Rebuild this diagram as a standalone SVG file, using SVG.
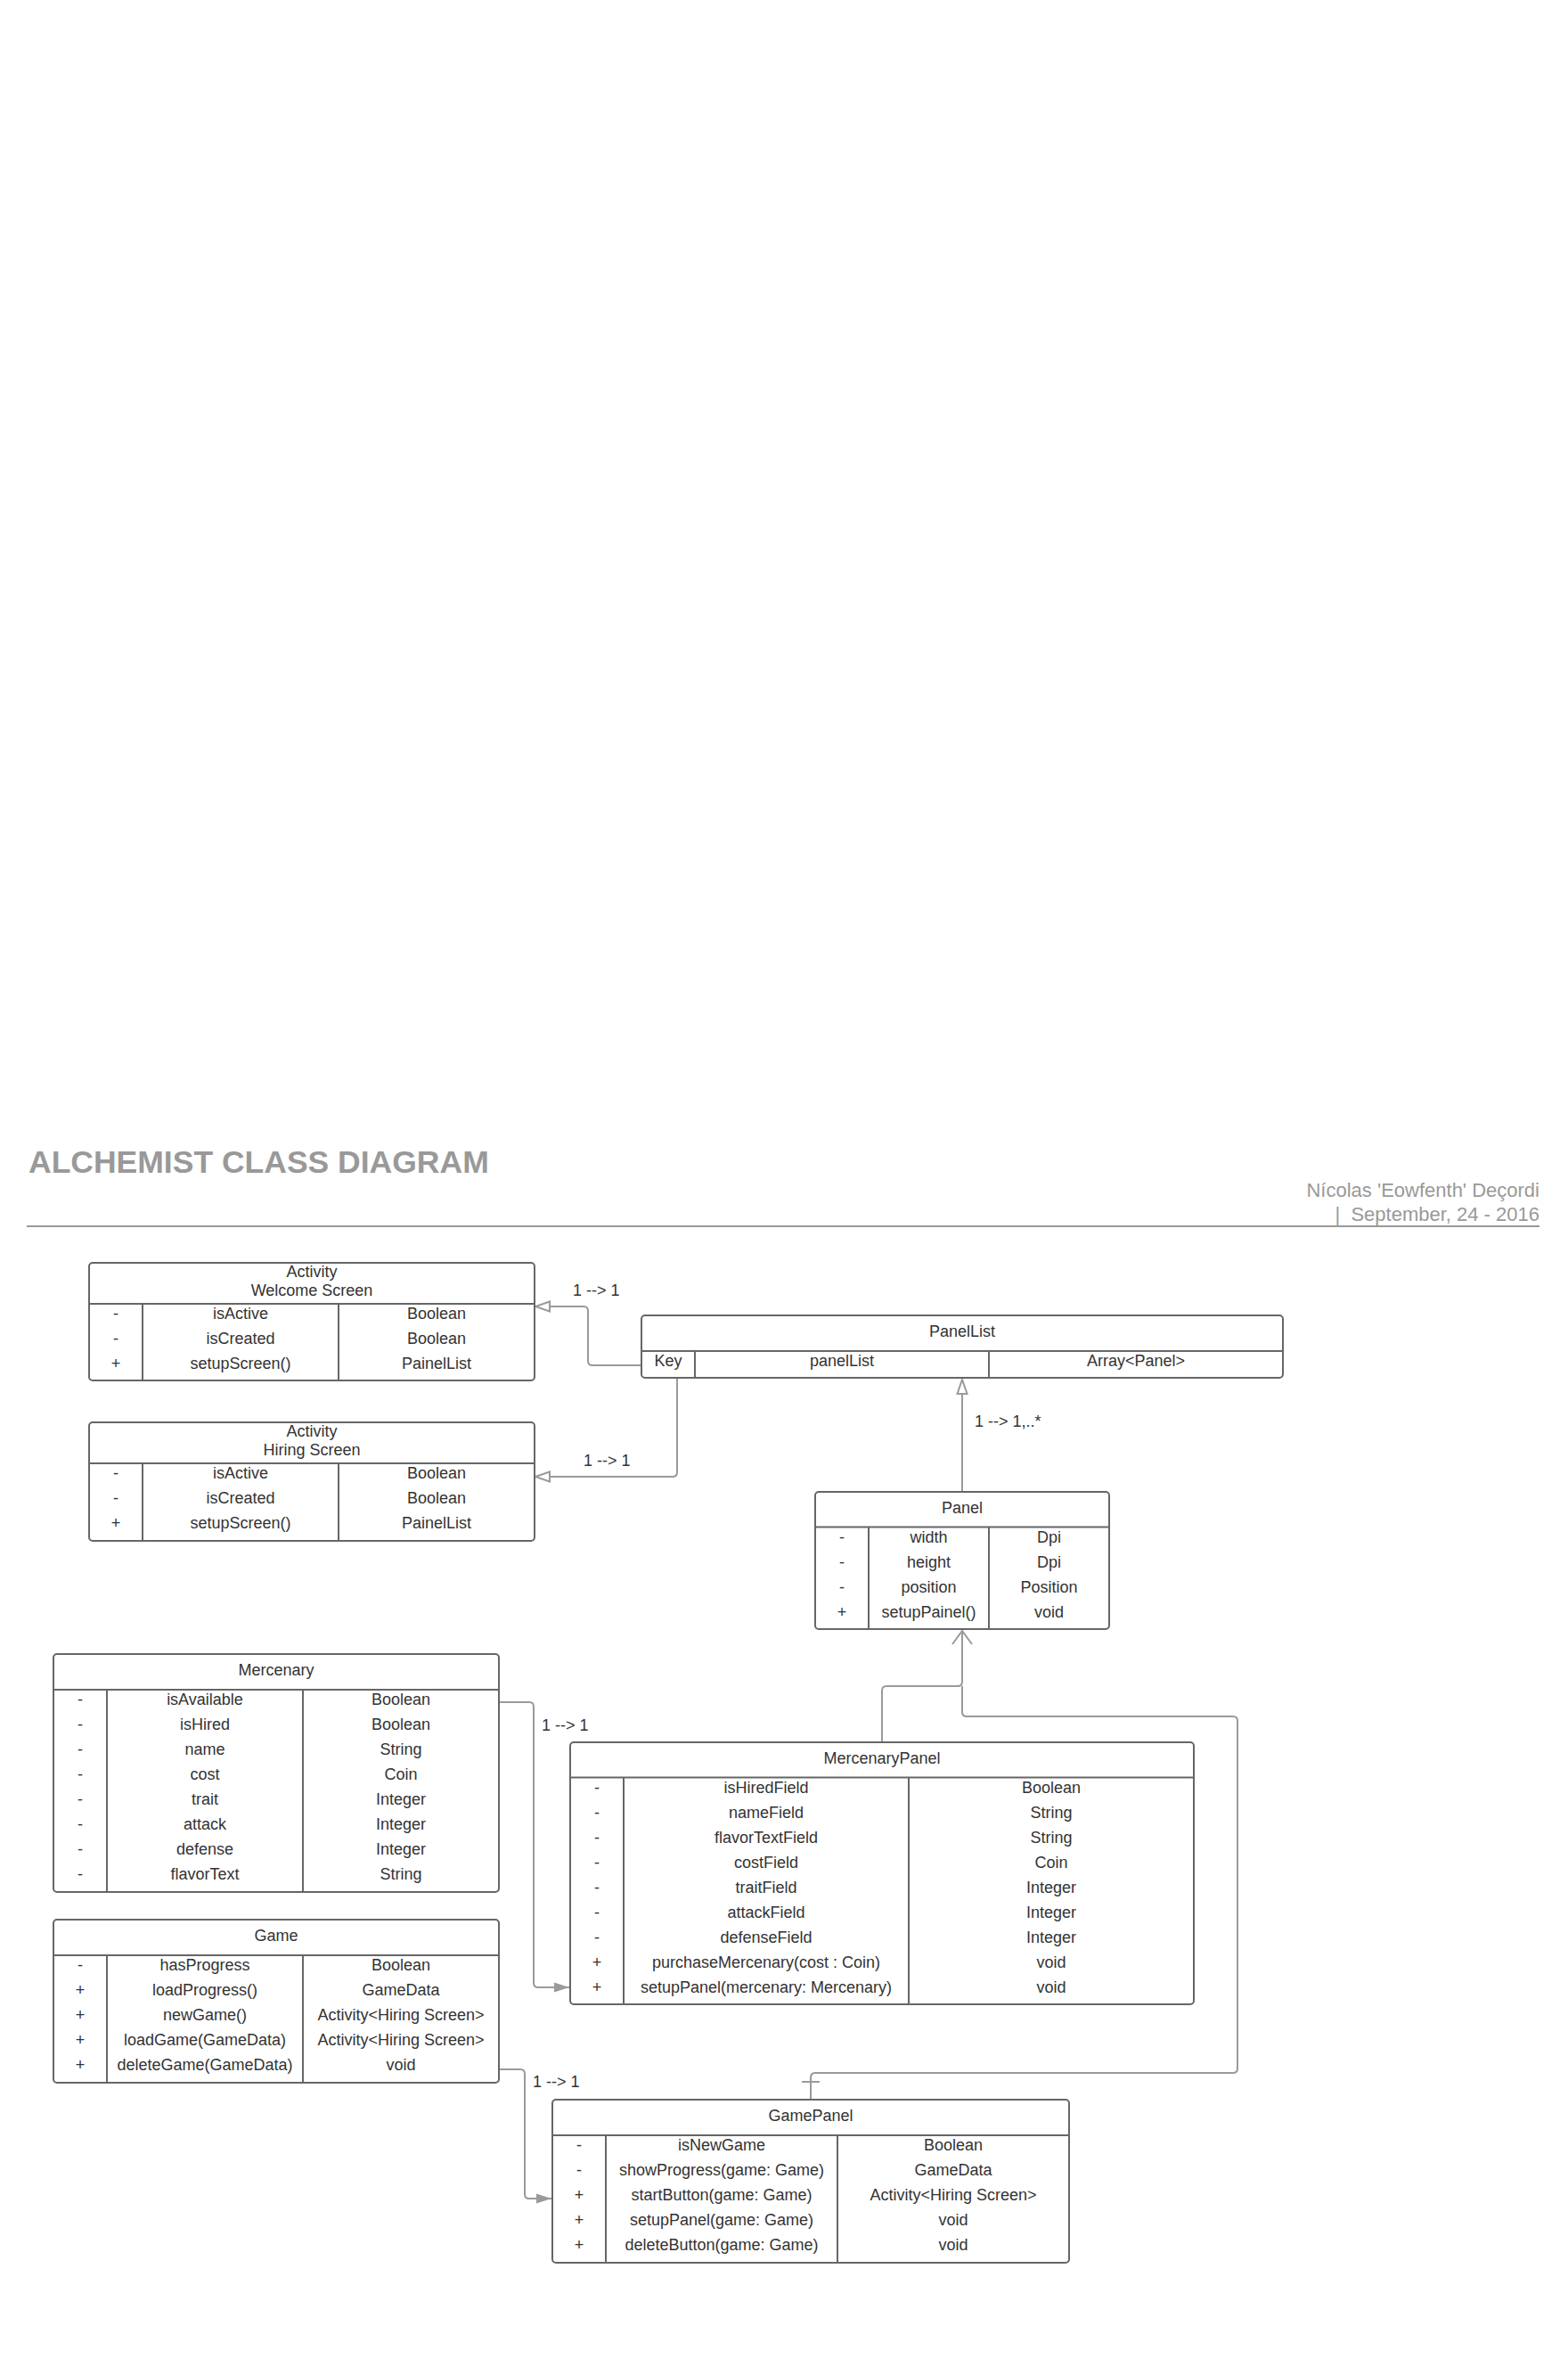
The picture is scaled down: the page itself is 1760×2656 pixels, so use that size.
<svg xmlns="http://www.w3.org/2000/svg" width="1760" height="2656" viewBox="0 0 1760 2656">
<style>
.bg{fill:#fff}
.box{fill:#fff;stroke:#666;stroke-width:2}
.ln{stroke:#666;stroke-width:2;fill:none}
.t{font-family:"Liberation Sans",Arial,sans-serif;font-size:18px;fill:#333;text-anchor:middle}
.lbl{font-family:"Liberation Sans",Arial,sans-serif;font-size:18px;fill:#333}
.conn{fill:none;stroke:#9a9a9a;stroke-width:2}
.title{font-family:"Liberation Sans",Arial,sans-serif;font-size:35.5px;font-weight:bold;fill:#999}
.meta{font-family:"Liberation Sans",Arial,sans-serif;font-size:22px;fill:#999;text-anchor:end}
</style>
<defs>
<marker id="tri" markerWidth="20" markerHeight="14" refX="17" refY="7" orient="auto" markerUnits="userSpaceOnUse"><path d="M1,1.5 L17,7 L1,12.5 Z" fill="#fff" stroke="#9a9a9a" stroke-width="2"/></marker>
<marker id="filled" markerWidth="20" markerHeight="14" refX="17" refY="7" orient="auto" markerUnits="userSpaceOnUse"><path d="M0,1.5 L17,7 L0,12.5 Z" fill="#9a9a9a"/></marker>
<marker id="open" markerWidth="20" markerHeight="26" refX="17" refY="13" orient="auto" markerUnits="userSpaceOnUse"><path d="M2,2 L17,13 L2,24" fill="none" stroke="#9a9a9a" stroke-width="2"/></marker>
</defs>
<rect class="bg" x="0" y="0" width="1760" height="2656"/>

<g id="header">
<text class="title" x="32" y="1316">ALCHEMIST CLASS DIAGRAM</text>
<text class="meta" x="1728" y="1343">Nícolas 'Eowfenth' Deçordi</text>
<text class="meta" x="1728" y="1370" xml:space="preserve">|  September, 24 - 2016</text>
<line x1="30" y1="1376" x2="1728" y2="1376" stroke="#999" stroke-width="2"/>
</g>

<g id="connectors">
<path class="conn" d="M720,1532 H665 Q660,1532 660,1527 V1471 Q660,1466 655,1466 H601" marker-end="url(#tri)"/>
<path class="conn" d="M760,1547 V1652 Q760,1657 755,1657 H601" marker-end="url(#tri)"/>
<path class="conn" d="M1080,1674 V1548" marker-end="url(#tri)"/>
<path class="conn" d="M990,1955 V1897 Q990,1892 995,1892 H1075 Q1080,1892 1080,1887 V1830" marker-end="url(#open)"/>
<path class="conn" d="M910,2356 V2331 Q910,2326 915,2326 H1384 Q1389,2326 1389,2321 V1931 Q1389,1926 1384,1926 H1085 Q1080,1926 1080,1921 V1892"/>
<path class="conn" d="M900,2336 H920"/>
<path class="conn" d="M561,1910 H594 Q599,1910 599,1915 V2225 Q599,2230 604,2230 H639" marker-end="url(#filled)"/>
<path class="conn" d="M561,2322 H584 Q589,2322 589,2327 V2462 Q589,2467 594,2467 H619" marker-end="url(#filled)"/>
<text class="lbl" x="643" y="1454">1 --&gt; 1</text>
<text class="lbl" x="655" y="1645">1 --&gt; 1</text>
<text class="lbl" x="1094" y="1601">1 --&gt; 1,..*</text>
<text class="lbl" x="608" y="1942">1 --&gt; 1</text>
<text class="lbl" x="598" y="2342">1 --&gt; 1</text>
</g>

<g id="activity-welcome-screen">
<rect class="box" x="100" y="1417" width="500" height="132" rx="4"/>
<path class="ln" d="M100,1463 H600 M160,1463 V1549 M380,1463 V1549"/>
<text class="t" x="350" y="1432.5">Activity</text>
<text class="t" x="350" y="1454">Welcome Screen</text>
<text class="t" x="130" y="1480">-</text><text class="t" x="270" y="1480">isActive</text><text class="t" x="490" y="1480">Boolean</text>
<text class="t" x="130" y="1508">-</text><text class="t" x="270" y="1508">isCreated</text><text class="t" x="490" y="1508">Boolean</text>
<text class="t" x="130" y="1536">+</text><text class="t" x="270" y="1536">setupScreen()</text><text class="t" x="490" y="1536">PainelList</text>
</g>

<g id="activity-hiring-screen">
<rect class="box" x="100" y="1596" width="500" height="133" rx="4"/>
<path class="ln" d="M100,1642 H600 M160,1642 V1729 M380,1642 V1729"/>
<text class="t" x="350" y="1611.5">Activity</text>
<text class="t" x="350" y="1633">Hiring Screen</text>
<text class="t" x="130" y="1659">-</text><text class="t" x="270" y="1659">isActive</text><text class="t" x="490" y="1659">Boolean</text>
<text class="t" x="130" y="1687">-</text><text class="t" x="270" y="1687">isCreated</text><text class="t" x="490" y="1687">Boolean</text>
<text class="t" x="130" y="1715">+</text><text class="t" x="270" y="1715">setupScreen()</text><text class="t" x="490" y="1715">PainelList</text>
</g>

<g id="panellist">
<rect class="box" x="720" y="1476" width="720" height="70" rx="4"/>
<path class="ln" d="M720,1516 H1440 M780,1516 V1546 M1110,1516 V1546"/>
<text class="t" x="1080" y="1500">PanelList</text>
<text class="t" x="750" y="1532.5">Key</text><text class="t" x="945" y="1532.5">panelList</text><text class="t" x="1275" y="1532.5">Array&lt;Panel&gt;</text>
</g>

<g id="panel">
<rect class="box" x="915" y="1674" width="330" height="154" rx="4"/>
<path class="ln" d="M915,1713.5 H1245 M975,1713.5 V1828 M1110,1713.5 V1828"/>
<text class="t" x="1080" y="1698">Panel</text>
<text class="t" x="945" y="1730.5">-</text><text class="t" x="1042.5" y="1730.5">width</text><text class="t" x="1177.5" y="1730.5">Dpi</text>
<text class="t" x="945" y="1758.5">-</text><text class="t" x="1042.5" y="1758.5">height</text><text class="t" x="1177.5" y="1758.5">Dpi</text>
<text class="t" x="945" y="1786.5">-</text><text class="t" x="1042.5" y="1786.5">position</text><text class="t" x="1177.5" y="1786.5">Position</text>
<text class="t" x="945" y="1814.5">+</text><text class="t" x="1042.5" y="1814.5">setupPainel()</text><text class="t" x="1177.5" y="1814.5">void</text>
</g>

<g id="mercenary">
<rect class="box" x="60" y="1856" width="500" height="267" rx="4"/>
<path class="ln" d="M60,1896 H560 M120,1896 V2123 M340,1896 V2123"/>
<text class="t" x="310" y="1880">Mercenary</text>
<text class="t" x="90" y="1913">-</text><text class="t" x="230" y="1913">isAvailable</text><text class="t" x="450" y="1913">Boolean</text>
<text class="t" x="90" y="1941">-</text><text class="t" x="230" y="1941">isHired</text><text class="t" x="450" y="1941">Boolean</text>
<text class="t" x="90" y="1969">-</text><text class="t" x="230" y="1969">name</text><text class="t" x="450" y="1969">String</text>
<text class="t" x="90" y="1997">-</text><text class="t" x="230" y="1997">cost</text><text class="t" x="450" y="1997">Coin</text>
<text class="t" x="90" y="2025">-</text><text class="t" x="230" y="2025">trait</text><text class="t" x="450" y="2025">Integer</text>
<text class="t" x="90" y="2053">-</text><text class="t" x="230" y="2053">attack</text><text class="t" x="450" y="2053">Integer</text>
<text class="t" x="90" y="2081">-</text><text class="t" x="230" y="2081">defense</text><text class="t" x="450" y="2081">Integer</text>
<text class="t" x="90" y="2109">-</text><text class="t" x="230" y="2109">flavorText</text><text class="t" x="450" y="2109">String</text>
</g>

<g id="game">
<rect class="box" x="60" y="2154" width="500" height="183" rx="4"/>
<path class="ln" d="M60,2194 H560 M120,2194 V2337 M340,2194 V2337"/>
<text class="t" x="310" y="2178">Game</text>
<text class="t" x="90" y="2211">-</text><text class="t" x="230" y="2211">hasProgress</text><text class="t" x="450" y="2211">Boolean</text>
<text class="t" x="90" y="2239">+</text><text class="t" x="230" y="2239">loadProgress()</text><text class="t" x="450" y="2239">GameData</text>
<text class="t" x="90" y="2267">+</text><text class="t" x="230" y="2267">newGame()</text><text class="t" x="450" y="2267">Activity&lt;Hiring Screen&gt;</text>
<text class="t" x="90" y="2295">+</text><text class="t" x="230" y="2295">loadGame(GameData)</text><text class="t" x="450" y="2295">Activity&lt;Hiring Screen&gt;</text>
<text class="t" x="90" y="2323">+</text><text class="t" x="230" y="2323">deleteGame(GameData)</text><text class="t" x="450" y="2323">void</text>
</g>

<g id="mercenarypanel">
<rect class="box" x="640" y="1955" width="700" height="294" rx="4"/>
<path class="ln" d="M640,1994.5 H1340 M700,1994.5 V2249 M1020,1994.5 V2249"/>
<text class="t" x="990" y="1979">MercenaryPanel</text>
<text class="t" x="670" y="2011.5">-</text><text class="t" x="860" y="2011.5">isHiredField</text><text class="t" x="1180" y="2011.5">Boolean</text>
<text class="t" x="670" y="2039.5">-</text><text class="t" x="860" y="2039.5">nameField</text><text class="t" x="1180" y="2039.5">String</text>
<text class="t" x="670" y="2067.5">-</text><text class="t" x="860" y="2067.5">flavorTextField</text><text class="t" x="1180" y="2067.5">String</text>
<text class="t" x="670" y="2095.5">-</text><text class="t" x="860" y="2095.5">costField</text><text class="t" x="1180" y="2095.5">Coin</text>
<text class="t" x="670" y="2123.5">-</text><text class="t" x="860" y="2123.5">traitField</text><text class="t" x="1180" y="2123.5">Integer</text>
<text class="t" x="670" y="2151.5">-</text><text class="t" x="860" y="2151.5">attackField</text><text class="t" x="1180" y="2151.5">Integer</text>
<text class="t" x="670" y="2179.5">-</text><text class="t" x="860" y="2179.5">defenseField</text><text class="t" x="1180" y="2179.5">Integer</text>
<text class="t" x="670" y="2207.5">+</text><text class="t" x="860" y="2207.5">purchaseMercenary(cost : Coin)</text><text class="t" x="1180" y="2207.5">void</text>
<text class="t" x="670" y="2235.5">+</text><text class="t" x="860" y="2235.5">setupPanel(mercenary: Mercenary)</text><text class="t" x="1180" y="2235.5">void</text>
</g>

<g id="gamepanel">
<rect class="box" x="620" y="2356" width="580" height="183" rx="4"/>
<path class="ln" d="M620,2396 H1200 M680,2396 V2539 M940,2396 V2539"/>
<text class="t" x="910" y="2380">GamePanel</text>
<text class="t" x="650" y="2413">-</text><text class="t" x="810" y="2413">isNewGame</text><text class="t" x="1070" y="2413">Boolean</text>
<text class="t" x="650" y="2441">-</text><text class="t" x="810" y="2441">showProgress(game: Game)</text><text class="t" x="1070" y="2441">GameData</text>
<text class="t" x="650" y="2469">+</text><text class="t" x="810" y="2469">startButton(game: Game)</text><text class="t" x="1070" y="2469">Activity&lt;Hiring Screen&gt;</text>
<text class="t" x="650" y="2497">+</text><text class="t" x="810" y="2497">setupPanel(game: Game)</text><text class="t" x="1070" y="2497">void</text>
<text class="t" x="650" y="2525">+</text><text class="t" x="810" y="2525">deleteButton(game: Game)</text><text class="t" x="1070" y="2525">void</text>
</g>
</svg>
